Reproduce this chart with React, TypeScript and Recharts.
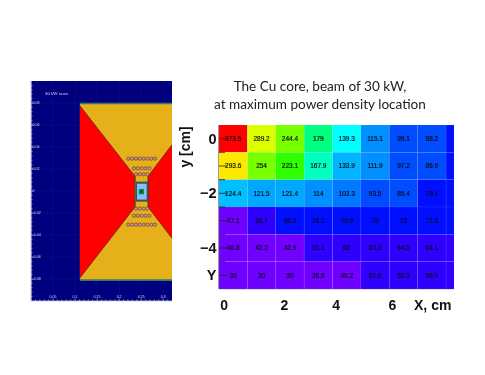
import { Area, CartesianGrid, ComposedChart, ReferenceLine, Scatter, ScatterChart, XAxis, YAxis } from "recharts";

// left panel: geometry scan
const scanXTicks = [0.05, 0.1, 0.15, 0.2, 0.25, 0.3];
const scanXMinor = [0.01, 0.02, 0.03, 0.04, 0.06, 0.07, 0.08, 0.09, 0.11, 0.12, 0.13, 0.14, 0.16, 0.17, 0.18, 0.19, 0.21, 0.22, 0.23, 0.24, 0.26, 0.27, 0.28, 0.29, 0.31];
const scanYTicks = [0.08, 0.06, 0.04, 0.02, 0, -0.02, -0.04, -0.06, -0.08];
const scanYMinor = [0.096, 0.092, 0.088, 0.084, 0.076, 0.072, 0.068, 0.064, 0.056, 0.052, 0.048, 0.044, 0.036, 0.032, 0.028, 0.024, 0.016, 0.012, 0.008, 0.004, -0.004, -0.008, -0.012, -0.016, -0.024, -0.028, -0.032, -0.036, -0.044, -0.048, -0.052, -0.056, -0.064, -0.068, -0.072, -0.076, -0.084, -0.088, -0.092, -0.096];

const body = [
  { x: 0.111, range: [-0.081, 0.0795] },
  { x: 0.32, range: [-0.081, 0.0795] },
];
const leftWedge = [
  { x: 0.111, range: [-0.079, 0.0775] },
  { x: 0.2355, range: [-0.0148, 0.0136] },
];
const rightWedge = [
  { x: 0.266, range: [-0.0148, 0.0136] },
  { x: 0.32, range: [-0.043, 0.042] },
];
const neckLeft = [
  { x: 0.2345, range: [-0.0148, 0.0136] },
  { x: 0.2375, range: [-0.0148, 0.0136] },
];
const neckRight = [
  { x: 0.2645, range: [-0.0148, 0.0136] },
  { x: 0.2675, range: [-0.0148, 0.0136] },
];
const coreBox = [
  { x: 0.2375, range: [-0.0097, 0.0085] },
  { x: 0.2655, range: [-0.0097, 0.0085] },
];
const coolant = [
  { x: 0.2405, range: [-0.0078, 0.0066] },
  { x: 0.2625, range: [-0.0078, 0.0066] },
];
const target = [
  { x: 0.2445, range: [-0.003, 0.0018] },
  { x: 0.2565, range: [-0.003, 0.0018] },
];
const targetCore = [
  { x: 0.249, range: [-0.0016, 0.0008] },
  { x: 0.2525, range: [-0.0016, 0.0008] },
];
const holes = [
  ...[0.2208, 0.2295, 0.2382, 0.2469, 0.2556, 0.2643, 0.273, 0.2815].flatMap((x) => [{ x, y: 0.0294 }, { x, y: -0.0306 }]),
  ...[0.2337, 0.2425, 0.2512, 0.26, 0.2688].flatMap((x) => [{ x, y: 0.0206 }, { x, y: -0.0225 }]),
  ...[0.2382, 0.2469, 0.2556, 0.2643].flatMap((x) => [{ x, y: 0.0152 }, { x, y: -0.016 }]),
];

// right panel: power density table
const columns = [0, 1, 2, 3, 4, 5, 6, 7, 8];
const rows = [0, -1, -2, -3, -4, -5];
const row0 = [373.5, 289.2, 244.4, 179, 139.3, 115.1, 99.1, 88.2, 84.1];
const row1 = [293.6, 254, 223.1, 167.9, 133.9, 111.9, 97.2, 86.9, 80.4];
const row2 = [124.4, 121.5, 121.4, 114, 103.3, 93.5, 85.4, 79.1, 76.2];
const row3 = [47.1, 50.7, 66.2, 78.1, 79.9, 78, 75, 71.8, 68.5];
const row4 = [46.8, 42.3, 42.9, 51.1, 60, 63.3, 64.5, 64.1, 62.9];
const row5 = [30, 30, 30, 36.6, 45.2, 51.8, 55.3, 56.9, 57.4];
const rowValues = [row0, row1, row2, row3, row4, row5];

const binFloors = [320, 291, 270, 240, 200, 175, 160, 135, 130, 124, 120, 110, 100, 85, 66, 50, 0];
const binColors = ["#ff0000", "#ffe800", "#dcff00", "#78ff00", "#30ff00", "#00ff80", "#00ffc0", "#00ffff", "#00b4ff", "#00c0ff", "#00a8ff", "#0090ff", "#0078ff", "#004cff", "#0010ff", "#3000ff", "#7000ff"];

const heatXTicks = [0.18, 2.3, 4.13, 6.11, 7.53];
const heatXLabels = ["0", "2", "4", "6", "X, cm"];
const heatYTicks = [0, -0.5, -1, -1.5, -2, -2.5, -3, -3.5, -4, -4.5, -5];
const heatYLabels: Record<string, string> = { "0": "0", "-2": "\u22122", "-4": "\u22124", "-5": "Y" };

const cells = rows.flatMap((y, r) =>
  columns.map((c) => ({ x: c + 0.5, y, value: rowValues[r][c] }))
);

const PLOT_W = 235;
const PLOT_H = 164;
const X_SPAN = 8.28;
const Y_SPAN = 6;
const cellW = PLOT_W / X_SPAN;
const cellH = PLOT_H / Y_SPAN;
const sans = "'Liberation Sans', Arial, sans-serif";

function binColor(value: number) {
  const i = binFloors.findIndex((floor) => value >= floor);
  return binColors[i];
}

function HeatCell(props: any) {
  const { cx, cy, payload } = props;
  return (
    <g>
      <rect
        x={cx - cellW / 2}
        y={cy - cellH / 2}
        width={cellW}
        height={cellH}
        fill={binColor(payload.value)}
        stroke="#ffffff"
        strokeOpacity={0.1}
        strokeWidth={0.6}
      />
      <text x={cx} y={cy + 2.2} textAnchor="middle" fontSize={6.5} fontFamily={sans} fill="#0a0a14" stroke="#0a0a14" strokeWidth={0.15}>
        {payload.value}
      </text>
    </g>
  );
}

function HeatYTick(props: any) {
  const { x, y, payload } = props;
  const major = Number.isInteger(payload.value);
  const label = heatYLabels[String(payload.value)];
  return (
    <g>
      <line x1={x} x2={x + (major ? 8 : 6)} y1={y} y2={y} stroke="#222" strokeWidth={0.8} />
      {label && (
        <text x={x - 2.5} y={y + 5} textAnchor="end" fontSize={14.5} fontWeight={700} fontFamily={sans} fill="#111">
          {label}
        </text>
      )}
    </g>
  );
}

function HeatXTick(props: any) {
  const { x, y, index } = props;
  return (
    <text x={x} y={y + 21} textAnchor="middle" fontSize={14} fontWeight={700} fontFamily={sans} fill="#111">
      {heatXLabels[index]}
    </text>
  );
}

function ScanYTick(props: any) {
  const { x, y, payload } = props;
  const major = scanYTicks.includes(payload.value);
  return (
    <g>
      <line x1={x} x2={x + (major ? 2.5 : 1.5)} y1={y} y2={y} stroke="#c8d0ee" strokeWidth={0.6} />
      {major && (
        <text x={x + 1.5} y={y + 1.4} fontSize={3.6} fontFamily={sans} fill="#d4daf0">
          {payload.value}
        </text>
      )}
    </g>
  );
}

function ScanXTick(props: any) {
  const { x, y, payload } = props;
  const major = scanXTicks.includes(payload.value);
  return (
    <g>
      <line x1={x} x2={x} y1={y} y2={y - (major ? 2.5 : 1.5)} stroke="#c8d0ee" strokeWidth={0.6} />
      {major && (
        <text x={x} y={y - 3} textAnchor="middle" fontSize={3.6} fontFamily={sans} fill="#d4daf0">
          {payload.value}
        </text>
      )}
    </g>
  );
}

function Hole(props: any) {
  return <circle cx={props.cx} cy={props.cy} r={1.6} fill="#c9a088" stroke="#7a3c3c" strokeWidth={0.8} />;
}

function Block({ data, fill, stroke }: { data: { x: number; range: number[] }[]; fill: string; stroke?: string }) {
  return (
    <Area
      data={data}
      dataKey="range"
      type="linear"
      fill={fill}
      fillOpacity={1}
      stroke={stroke ?? "none"}
      strokeWidth={stroke ? 0.8 : 0}
      dot={false}
      activeDot={false}
      isAnimationActive={false}
    />
  );
}

export default function App() {
  return (
    <div style={{ position: "absolute", left: 0, top: 0, width: 485, height: 375, background: "#fff", overflow: "hidden", filter: "blur(0.4px)" }}>
      <div style={{ position: "absolute", left: 30, top: 81 }}>
        <ComposedChart width={142} height={221} margin={{ top: 0, right: 0, bottom: 0, left: 0 }}>
          <CartesianGrid
            fill="#00007e"
            stroke="#0e0e88"
            strokeWidth={0.6}
            horizontalValues={scanYTicks}
            verticalValues={scanXTicks}
          />
          <XAxis
            type="number"
            dataKey="x"
            domain={[0, 0.32]}
            ticks={[...scanXTicks, ...scanXMinor]}
            interval={0}
            height={1}
            tickSize={0}
            tickMargin={0}
            tickLine={false}
            axisLine={{ stroke: "#c8d0ee", strokeWidth: 0.8 }}
            tick={ScanXTick}
          />
          <YAxis
            type="number"
            dataKey="y"
            domain={[-0.1, 0.1]}
            ticks={[...scanYTicks, ...scanYMinor]}
            interval={0}
            width={1}
            tickSize={0}
            tickMargin={0}
            tickLine={false}
            axisLine={{ stroke: "#c8d0ee", strokeWidth: 1.2 }}
            tick={ScanYTick}
          />
          {Block({ data: body, fill: "#e6b01a" })}
          {Block({ data: leftWedge, fill: "#ff0000", stroke: "#5a2a10" })}
          {Block({ data: rightWedge, fill: "#ff0000", stroke: "#5a2a10" })}
          {Block({ data: neckLeft, fill: "#4a3a20" })}
          {Block({ data: neckRight, fill: "#4a3a20" })}
          {Block({ data: coreBox, fill: "#45505a" })}
          {Block({ data: coolant, fill: "#7fc0f5" })}
          {Block({ data: target, fill: "#0f8a4a" })}
          {Block({ data: targetCore, fill: "#123a2a" })}
          <ReferenceLine segment={[{ x: 0.111, y: 0.0795 }, { x: 0.32, y: 0.0795 }]} stroke="#2f7d6a" strokeWidth={1.6} />
          <ReferenceLine segment={[{ x: 0.111, y: -0.081 }, { x: 0.32, y: -0.081 }]} stroke="#2f7d6a" strokeWidth={1.6} />
          <Scatter data={holes} dataKey="y" shape={Hole} isAnimationActive={false} />
        </ComposedChart>
        <div style={{ position: "absolute", left: 15, top: 10, fontSize: 4.4, fontFamily: sans, color: "#d4daf0", whiteSpace: "nowrap" }}>
          30 kW scan
        </div>
      </div>

      <div style={{ position: "absolute", left: 190, top: 77, width: 260, textAlign: "center", fontFamily: "Lato, sans-serif", fontSize: 13.6, lineHeight: "18px", color: "#222" }}>
        <div>The Cu core, beam of 30 kW,</div>
        <div>at maximum power density location</div>
      </div>

      <div style={{ position: "absolute", left: 179, top: 120 }}>
        <ScatterChart width={275} height={195} margin={{ top: 5, right: 0, bottom: 0, left: 0 }}>
          <XAxis
            type="number"
            dataKey="x"
            domain={[0, X_SPAN]}
            allowDataOverflow
            ticks={heatXTicks}
            interval={0}
            height={26}
            tickSize={0}
            tickMargin={0}
            tickLine={false}
            axisLine={{ stroke: "#c4c4c8", strokeWidth: 1 }}
            tick={HeatXTick}
          />
          <YAxis
            type="number"
            dataKey="y"
            domain={[-5.5, 0.5]}
            allowDataOverflow
            ticks={heatYTicks}
            interval={0}
            width={40}
            tickSize={0}
            tickMargin={0}
            tickLine={false}
            axisLine={{ stroke: "#333", strokeWidth: 1 }}
            tick={HeatYTick}
            label={{ value: "y [cm]", angle: -90, position: "insideLeft", offset: 6, dy: -60, style: { fontSize: 14, fontWeight: 700, fontFamily: sans, fill: "#111", textAnchor: "middle" } }}
          />
          <Scatter data={cells} dataKey="y" shape={HeatCell} isAnimationActive={false} />
        </ScatterChart>
      </div>
    </div>
  );
}
